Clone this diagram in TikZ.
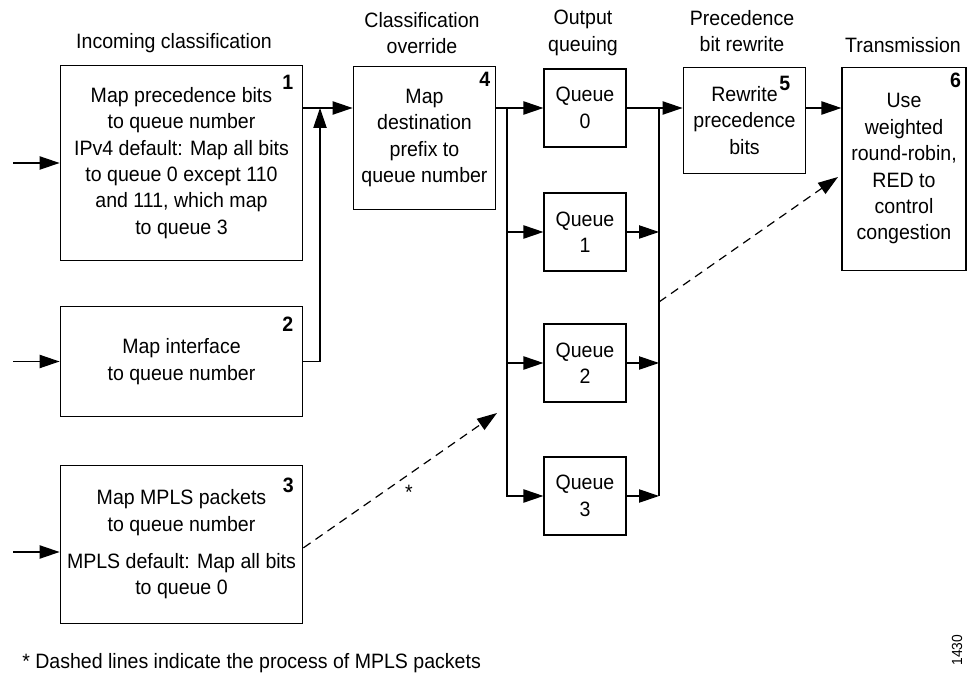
\documentclass[tikz,border=0pt]{standalone}
\usepackage{fontspec}
\setmainfont[FakeStretch=0.94]{Liberation Sans}
\usetikzlibrary{arrows.meta}

\begin{document}
\begin{tikzpicture}[x=0.75pt, y=-0.75pt,
  font=\fontsize{15.6}{19.8}\selectfont,
  every node/.style={inner sep=0pt},
  box/.style={draw, line width=0.9pt, align=center},
  qbox/.style={box, minimum width=61.5pt, minimum height=58.5pt},
  num/.style={font=\fontsize{15.6}{19.8}\selectfont\bfseries, anchor=north east},
  head/.style={align=center},
  wire/.style={line width=0.9pt},
  arr/.style={wire, -{Triangle[length=15pt, width=10pt]}},
  mpls/.style={arr, dash pattern=on 6.5pt off 4.5pt}]

\useasboundingbox (0,0) rectangle (968,680);

%% Column headings
\node[head] (hIn)   at (174,43)  {Incoming classification};
\node[head] (hOver) at (422,33)  {Classification\\override};
\node[head] (hQ)    at (583,33)  {Output\\queuing};
\node[head] (hRw)   at (742,31)  {Precedence\\bit rewrite};
\node[head] (hTx)   at (903,45)  {Transmission};

%% 1-3 — incoming classification
\node[box, minimum width=182pt, minimum height=146pt] (cls1) at (181.5,163)
  {Map precedence bits\\to queue number\\IPv4 default: Map all bits\\to queue 0 except 110\\and 111, which map\\to queue 3};
\node[box, minimum width=182pt, minimum height=83pt] (cls2) at (181.5,361.5)
  {Map interface\\to queue number};
\node[box, minimum width=182pt, minimum height=118pt] (cls3) at (181.5,544.5)
  {Map MPLS packets\\to queue number\\[8pt]MPLS default: Map all bits\\to queue 0};

%% 4 — classification override
\node[box, minimum width=107pt, minimum height=107pt] (ovr) at (424.5,138)
  {Map\\destination\\prefix to\\queue number};

%% output queues
\foreach \q/\yq in {0/108,1/232,2/363,3/496}
  \node[qbox] (q\q) at (585,\yq) {Queue\\\q};

%% 5 — precedence bit rewrite, 6 — transmission
\node[box, minimum width=92pt, minimum height=80pt] (rw) at (744.5,120.5)
  {Rewrite\\precedence\\bits};
\node[box, minimum width=93pt, minimum height=152pt] (tx) at (904,169)
  {Use\\weighted\\round-robin,\\RED to\\control\\congestion};

%% step numbers
\node[num] (n1) at ([xshift=-7.5pt, yshift=-7.5pt]cls1.north east) {1};
\node[num] (n2) at ([xshift=-7.5pt, yshift=-8pt]cls2.north east) {2};
\node[num] (n3) at ([xshift=-7pt, yshift=-9pt]cls3.north east) {3};
\node[num] (n4) at ([xshift=-4.5pt, yshift=-4.5pt]ovr.north east) {4};
\node[num] (n5) at ([xshift=-12pt, yshift=-7pt]rw.north east) {5};
\node[num] (n6) at ([xshift=-4pt, yshift=-4.5pt]tx.north east) {6};

%% incoming packets
\coordinate (in1) at (13,163);
\coordinate (in2) at (13,361.5);
\coordinate (in3) at (13,552);
\draw[arr] (in1) -- (cls1.west |- in1);
\draw[arr] (in2) -- (cls2.west |- in2);
\draw[arr] (in3) -- (cls3.west |- in3);

%% into the override
\coordinate (merge) at (320,108);
\draw[arr] (cls1.east |- merge) -- (ovr.west |- merge);
\draw[arr] (cls2.east) -| (merge);

%% fan out to the queues and back in
\coordinate (fanL) at (507,108);
\coordinate (fanR) at (659,108);
\draw[wire] (ovr.east |- fanL) -- (fanL);
\draw[arr] (fanL) -- (q0.west);
\draw[arr] (fanL |- q1) -- (q1.west);
\draw[arr] (fanL |- q2) -- (q2.west);
\draw[arr] (fanL) |- (q3.west);
\foreach \q in {1,2,3}
  \draw[arr] (q\q.east) -- (fanR |- q\q);
\draw[wire] (fanR |- q3) -- (fanR);
\draw[arr] (q0.east) -- (rw.west |- q0);
\draw[arr] (rw.east |- q0) -- (tx.west |- q0);

%% MPLS path (dashed)
\coordinate (mplsA) at (497,413);
\coordinate (mplsB) at (659,302);
\coordinate (mplsC) at (838,177);
\draw[mpls] ([yshift=-2.5pt]cls3.east) -- (mplsA);
\draw[mpls] (mplsB) -- (mplsC);
\node (star) at (409,492) {*};

%% footnote
\node[anchor=west] (note) at (22,663) {* Dashed lines indicate the process of MPLS packets};
\node[rotate=90, font=\fontsize{11}{13}\selectfont] (fig) at (957,650) {1430};

\end{tikzpicture}
\end{document}
